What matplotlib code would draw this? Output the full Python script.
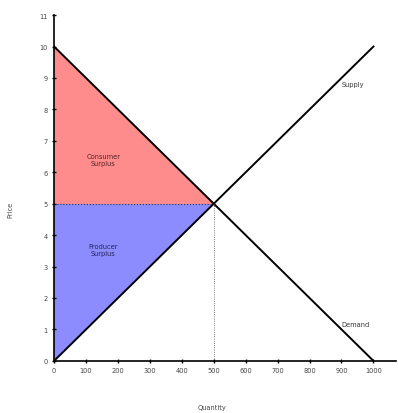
import matplotlib
matplotlib.use("Agg")
import matplotlib.pyplot as plt
import numpy as np

# market data
quantity = [0, 500, 1000]
demand_price = [10, 5, 0]
supply_price = [0, 5, 10]
eq_q, eq_p = 500, 5
x_ticks = [0, 100, 200, 300, 400, 500, 600, 700, 800, 900, 1000]
y_ticks = [0, 1, 2, 3, 4, 5, 6, 7, 8, 9, 10, 11]

fig = plt.figure(figsize=(3.98, 4.14), dpi=100)
ax = fig.add_axes([0.136, 0.126, 0.86, 0.835])

# surplus areas
ax.fill([0, 0, eq_q], [demand_price[0], eq_p, eq_p], color="#ff8c8c", lw=0)
ax.fill([0, 0, eq_q], [supply_price[0], eq_p, eq_p], color="#8c8cff", lw=0)

ax.plot(quantity, demand_price, color="black", lw=1.4)
ax.plot(quantity, supply_price, color="black", lw=1.4)
ax.plot([0, eq_q], [eq_p, eq_p], color="#333333", lw=0.8, ls=":")
ax.plot([eq_q, eq_q], [0, eq_p], color="#555555", lw=0.6, ls=":")

ax.text(154, 6.4, "Consumer\nSurplus", fontsize=4.8, ha="center", va="center", color="#552222")
ax.text(154, 3.55, "Producer\nSurplus", fontsize=4.8, ha="center", va="center", color="#222255")
ax.text(937, 8.8, "Supply", fontsize=4.8, ha="center", va="center", color="#333333")
ax.text(944, 1.17, "Demand", fontsize=4.8, ha="center", va="center", color="#333333")

ax.set_xlim(0, 1072)
ax.set_ylim(0, 11)
ax.set_xticks(x_ticks)
ax.set_yticks(y_ticks)
ax.tick_params(direction="inout", length=3.5, width=1, labelsize=4.8, labelcolor="#444444", pad=3)
for s in ("top", "right"):
    ax.spines[s].set_visible(False)
for s in ("left", "bottom"):
    ax.spines[s].set_linewidth(1.2)

fig.text(212 / 398, 1 - 408 / 414, "Quantity", fontsize=4.8, ha="center", va="center", color="#444444")
fig.text(10 / 398, 1 - 210 / 414, "Price", fontsize=4.8, ha="center", va="center", rotation=90, color="#444444")

fig.savefig("out.png", dpi=100)
